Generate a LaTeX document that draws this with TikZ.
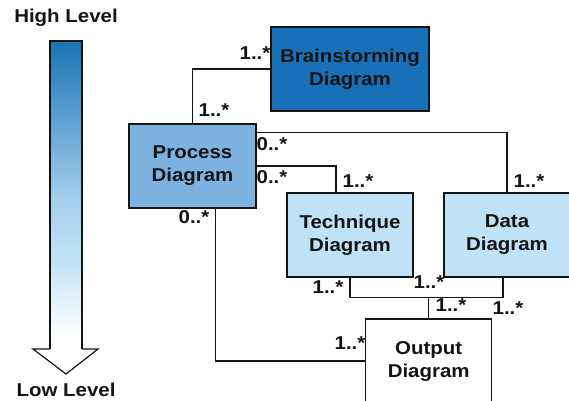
\documentclass[tikz,border=0pt]{standalone}
\usepackage{fontspec}
\setmainfont[FakeStretch=1.1]{Liberation Sans}
\definecolor{bsblue}{RGB}{24,113,184}
\definecolor{procblue}{RGB}{125,178,224}
\definecolor{lightblue}{RGB}{192,226,246}
\definecolor{gradtop}{RGB}{26,115,180}
\definecolor{gradmid}{RGB}{165,207,238}
\definecolor{gradlow}{RGB}{195,228,246}
\definecolor{ink}{RGB}{20,20,20}
\begin{document}
\begin{tikzpicture}[x=1pt,y=-1pt,
  txt/.style={font=\fontsize{18.6}{23}\selectfont\bfseries, text=ink, align=center, inner sep=0pt},
  box/.style={txt, draw=ink, line width=1.2pt, minimum height=84pt},
  conn/.style={draw=ink, line width=1.2pt},
  lbl/.style={txt}]
\useasboundingbox (0,0) rectangle (569,400);
\clip (0,0) rectangle (569,400);

% level arrow
\shade[top color=gradtop, bottom color=gradmid] (50,41) rectangle (82,200);
\shade[top color=gradmid, bottom color=gradlow] (50,199.5) rectangle (82,265);
\shade[top color=gradlow, bottom color=white] (50,264.5) rectangle (82,335);
\draw[ink, line width=1.2pt, line join=miter] (50,349) -- (50,41) -- (82,41) -- (82,349);
\draw[ink, fill=white, line width=1.2pt, line join=miter] (82,349) -- (98,349) -- (66,374) -- (33,349) -- (50,349);
\node[txt] (hi) at (66,18) {High Level};
\node[txt] (lo) at (66,390) {Low Level};

% boxes
\node[box, fill=bsblue, minimum width=158pt] (B) at (350,69) {Brainstorming\\Diagram};
\node[box, fill=procblue, minimum width=127pt] (P) at (192.5,166) {Process\\Diagram};
\node[box, fill=lightblue, minimum width=126pt] (T) at (350,235) {Technique\\Diagram};
\node[box, fill=lightblue, minimum width=126pt] (D) at (507,235) {Data\\Diagram};
\node[box, fill=white, minimum width=126pt] (O) at (428.7,361) {Output\\Diagram};

% connectors
\draw[conn] (P.north) |- (B.west);
\draw[conn] (P.north east) ++(0,9) -| (D.north);
\draw[conn] (P.east) -| ([xshift=-14pt]T.north);
\draw[conn] ([xshift=23pt]P.south) |- (O.west);
\draw[conn] (T.south) -- ++(0,20) coordinate (j1) -| ([xshift=-4pt]D.south);
\draw[conn] (O.north) -- (O.north |- j1);

% multiplicities
\node[lbl] (m1) at (255,53) {1..*};
\node[lbl] (m2) at (214,110) {1..*};
\node[lbl] (m3) at (272,144) {0..*};
\node[lbl] (m4) at (272,177) {0..*};
\node[lbl] (m5) at (194,217) {0..*};
\node[lbl] (m6) at (358,181) {1..*};
\node[lbl] (m7) at (529,181) {1..*};
\node[lbl] (m8) at (328,287) {1..*};
\node[lbl] (m9) at (429,282) {1..*};
\node[lbl] (m10) at (451,305) {1..*};
\node[lbl] (m11) at (508,308) {1..*};
\node[lbl] (m12) at (350,343) {1..*};
\end{tikzpicture}
\end{document}
